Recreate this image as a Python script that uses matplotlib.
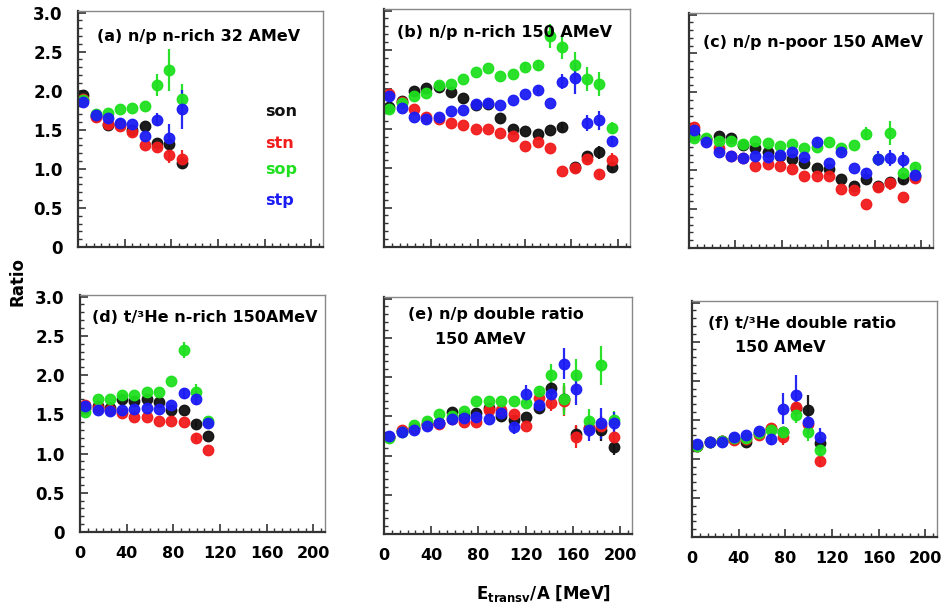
import matplotlib
matplotlib.use("Agg")
import matplotlib.pyplot as plt
from matplotlib.ticker import MultipleLocator, FixedLocator

W, H = 943, 605

# bin centres (MeV/A)
x_bins = [4.5, 15.0, 25.6, 36.1, 46.7, 57.2, 67.8, 78.3, 88.9, 99.4,
          110.0, 120.5, 131.1, 141.6, 152.2, 162.7, 173.3, 183.8, 194.4]

# (a) n/p n-rich 32 AMeV
a_son = [1.95, 1.68, 1.56, 1.57, 1.50, 1.55, 1.33, 1.32, 1.08]
a_stn = [1.90, 1.66, 1.58, 1.55, 1.47, 1.31, 1.28, 1.18, 1.12]
a_sop = [1.88, 1.70, 1.71, 1.76, 1.78, 1.81, 2.07, 2.27, 1.89]
a_stp = [1.85, 1.69, 1.65, 1.59, 1.58, 1.42, 1.63, 1.39, 1.76]
a_son_err = [0, 0, 0, 0, 0, 0, 0, 0.05, 0.08]
a_stn_err = [0, 0, 0, 0, 0, 0, 0.06, 0.10, 0.12]
a_sop_err = [0, 0, 0, 0, 0, 0, 0.14, 0.27, 0.20]
a_stp_err = [0, 0, 0, 0, 0, 0, 0.08, 0.18, 0.25]

# (b) n/p n-rich 150 AMeV
b_son = [1.78, 1.85, 1.98, 2.02, 2.03, 1.97, 1.89, 1.80, 1.82, 1.64,
         1.50, 1.47, 1.44, 1.48, 1.52, 1.02, 1.15, 1.20, 1.02]
b_stn = [1.94, 1.84, 1.75, 1.65, 1.63, 1.57, 1.55, 1.50, 1.50, 1.45,
         1.41, 1.28, 1.33, 1.26, 0.97, 1.00, 1.12, 0.92, 1.11]
b_sop = [1.75, 1.83, 1.91, 1.96, 2.05, 2.07, 2.13, 2.22, 2.27, 2.17,
         2.19, 2.29, 2.31, 2.68, 2.54, 2.31, 2.13, 2.07, 1.51]
b_stp = [1.91, 1.77, 1.65, 1.62, 1.65, 1.72, 1.74, 1.81, 1.83, 1.80,
         1.86, 1.94, 1.99, 1.83, 2.10, 2.14, 1.57, 1.61, 1.34]
b_son_err = [0, 0, 0, 0, 0, 0, 0, 0, 0, 0, 0, 0, 0, 0, 0.05, 0, 0.05, 0.08, 0.05]
b_stn_err = [0, 0, 0, 0, 0, 0, 0, 0, 0, 0, 0, 0, 0, 0, 0, 0, 0.08, 0.05, 0.08]
b_sop_err = [0, 0, 0, 0, 0, 0, 0, 0, 0, 0, 0, 0.05, 0.06, 0.15, 0.15, 0.17, 0.15, 0.15, 0.07]
b_stp_err = [0, 0, 0, 0, 0, 0, 0, 0, 0, 0, 0, 0, 0.05, 0, 0.10, 0.20, 0.10, 0.12, 0.05]

# (c) n/p n-poor 150 AMeV
c_son = [1.45, 1.40, 1.44, 1.41, 1.32, 1.28, 1.24, 1.18, 1.14, 1.09,
         1.03, 1.01, 0.89, 0.80, 0.89, 0.80, 0.85, 0.89, 0.92]
c_stn = [1.55, 1.40, 1.29, 1.18, 1.16, 1.06, 1.08, 1.05, 1.01, 0.92,
         0.92, 0.93, 0.76, 0.75, 0.57, 0.79, 0.83, 0.66, 0.90]
c_sop = [1.42, 1.41, 1.37, 1.38, 1.34, 1.38, 1.35, 1.31, 1.34, 1.29,
         1.30, 1.36, 1.29, 1.32, 1.47, 1.15, 1.48, 0.96, 1.04]
c_stp = [1.52, 1.36, 1.24, 1.18, 1.16, 1.18, 1.17, 1.20, 1.24, 1.17,
         1.36, 1.09, 1.24, 1.03, 0.97, 1.15, 1.16, 1.13, 0.94]
c_son_err = [0, 0, 0, 0, 0, 0, 0, 0, 0, 0, 0, 0, 0, 0, 0, 0.06, 0, 0.07, 0]
c_stn_err = [0, 0, 0, 0, 0, 0, 0, 0, 0, 0, 0, 0, 0, 0, 0, 0.06, 0.08, 0, 0.06]
c_sop_err = [0, 0, 0, 0, 0, 0, 0, 0, 0, 0, 0, 0, 0, 0, 0.08, 0, 0.15, 0, 0.06]
c_stp_err = [0, 0, 0, 0, 0, 0, 0, 0, 0, 0, 0.05, 0, 0.05, 0, 0.05, 0.10, 0.10, 0.10, 0.05]

# (d) t/3He n-rich 150 AMeV
d_son = [1.58, 1.60, 1.58, 1.70, 1.67, 1.70, 1.66, 1.55, 1.56, 1.37, 1.22]
d_stn = [1.62, 1.58, 1.56, 1.51, 1.46, 1.47, 1.42, 1.42, 1.40, 1.20, 1.04]
d_sop = [1.53, 1.69, 1.70, 1.74, 1.75, 1.79, 1.79, 1.93, 2.32, 1.78, 1.42]
d_stp = [1.61, 1.56, 1.54, 1.55, 1.57, 1.58, 1.57, 1.62, 1.77, 1.70, 1.39]
d_son_err = [0, 0, 0, 0, 0, 0, 0, 0, 0, 0.05, 0]
d_stn_err = [0, 0, 0, 0, 0, 0, 0, 0, 0, 0.05, 0]
d_sop_err = [0, 0, 0, 0, 0, 0, 0, 0, 0.10, 0.10, 0.05]
d_stp_err = [0, 0, 0, 0, 0, 0, 0, 0, 0.07, 0.08, 0.05]

# (e) n/p double ratio 150 AMeV
e_son = [1.23, 1.31, 1.35, 1.40, 1.42, 1.55, 1.50, 1.54, 1.61, 1.51,
         1.45, 1.49, 1.61, 1.86, 1.72, 1.27, 1.35, 1.33, 1.11]
e_stn = [1.23, 1.32, 1.35, 1.40, 1.40, 1.47, 1.43, 1.43, 1.58, 1.58,
         1.53, 1.37, 1.73, 1.67, 1.70, 1.24, 1.35, 1.38, 1.24]
e_sop = [1.22, 1.30, 1.39, 1.44, 1.53, 1.51, 1.57, 1.70, 1.70, 1.69,
         1.69, 1.67, 1.82, 2.03, 1.72, 2.03, 1.44, 2.15, 1.45]
e_stp = [1.25, 1.30, 1.33, 1.37, 1.41, 1.46, 1.48, 1.49, 1.47, 1.54,
         1.36, 1.78, 1.64, 1.79, 2.17, 1.85, 1.33, 1.41, 1.41]
e_son_err = [0, 0, 0, 0, 0, 0, 0, 0, 0, 0, 0, 0, 0, 0.08, 0.15, 0.10, 0.12, 0.15, 0.10]
e_stn_err = [0, 0, 0, 0, 0, 0, 0, 0, 0, 0, 0, 0, 0, 0.10, 0.20, 0.15, 0.12, 0.12, 0.10]
e_sop_err = [0, 0, 0, 0, 0, 0, 0, 0, 0, 0, 0, 0, 0.06, 0.14, 0.20, 0.20, 0.15, 0.25, 0.12]
e_stp_err = [0, 0, 0, 0, 0, 0, 0, 0, 0, 0, 0.08, 0.12, 0.08, 0.08, 0.20, 0.20, 0.15, 0.20, 0.15]

# (f) t/3He double ratio 150 AMeV
f_son = [1.17, 1.21, 1.23, 1.26, 1.22, 1.33, 1.38, 1.35, 1.65, 1.62, 1.20]
f_stn = [1.17, 1.21, 1.23, 1.24, 1.26, 1.31, 1.40, 1.28, 1.66, 1.45, 0.97]
f_sop = [1.16, 1.21, 1.23, 1.27, 1.27, 1.33, 1.37, 1.35, 1.56, 1.35, 1.11]
f_stp = [1.19, 1.21, 1.22, 1.28, 1.30, 1.36, 1.25, 1.64, 1.82, 1.47, 1.28]
f_son_err = [0, 0, 0, 0, 0, 0, 0, 0, 0.10, 0.20, 0.10]
f_stn_err = [0, 0, 0, 0, 0, 0, 0, 0.10, 0.10, 0.10, 0.07]
f_sop_err = [0, 0, 0, 0, 0, 0, 0, 0, 0.10, 0.12, 0.10]
f_stp_err = [0, 0, 0, 0, 0, 0, 0.07, 0.20, 0.25, 0.15, 0.12]

series_names = ["son", "stn", "sop", "stp"]
colors = ["#111111", "#f21c1c", "#1fe01f", "#1c1cf5"]

y_ticks = [0, 0.5, 1.0, 1.5, 2.0, 2.5, 3.0]
y_ticklabels = ['0', '0.5', '1.0', '1.5', '2.0', '2.5', '3.0']
x_ticks = [0, 40, 80, 120, 160, 200]
x_ticklabels = ['0', '40', '80', '120', '160', '200']

plt.rcParams['font.family'] = ['DejaVu Sans']
plt.rcParams['font.weight'] = 'bold'

fig = plt.figure(figsize=(W / 100, H / 100), dpi=100)


def panel(l, t, r, b, ylabels, xlabels):
    ax = fig.add_axes([l / W, 1 - b / H, (r - l) / W, (b - t) / H])
    ax.set_xlim(0, 210)
    ax.set_ylim(0, 3.02)
    ax.yaxis.set_major_locator(FixedLocator(y_ticks))
    ax.yaxis.set_minor_locator(MultipleLocator(0.1))
    ax.xaxis.set_major_locator(FixedLocator(x_ticks))
    ax.xaxis.set_minor_locator(MultipleLocator(40 / 6))
    ax.tick_params(which='both', direction='in', top=False, right=False,
                   colors='#333333')
    ax.tick_params(which='major', length=6, width=1.2)
    ax.tick_params(which='minor', length=3, width=1)
    ax.tick_params(axis='y', pad=11, labelsize=12, labelcolor='black')
    ax.tick_params(axis='x', pad=10, labelsize=11.5, labelcolor='black')
    if ylabels:
        ax.set_yticklabels(y_ticklabels, fontweight='bold')
    else:
        ax.set_yticklabels([])
    if xlabels:
        ax.set_xticklabels(x_ticklabels, fontweight='bold')
    else:
        ax.set_xticklabels([])
    for s in ['left', 'bottom']:
        ax.spines[s].set_color('#333333')
        ax.spines[s].set_linewidth(1.6)
    for s in ['top', 'right']:
        ax.spines[s].set_color('#888888')
        ax.spines[s].set_linewidth(1.0)
    return ax


def draw(ax, vals, errs):
    for v, e, c in zip(vals, errs, colors):
        xs = x_bins[:len(v)]
        ax.errorbar(xs, v, yerr=e, fmt='o', ms=7.5, color=c, mec=c,
                    ecolor=c, elinewidth=1.6, capsize=0, alpha=0.95)


ax_a = panel(78, 11, 323, 247, True, False)
draw(ax_a, [a_son, a_stn, a_sop, a_stp], [a_son_err, a_stn_err, a_sop_err, a_stp_err])

ax_b = panel(384, 9, 630, 247, False, False)
draw(ax_b, [b_son, b_stn, b_sop, b_stp], [b_son_err, b_stn_err, b_sop_err, b_stp_err])

ax_c = panel(689, 13, 933, 248, False, False)
draw(ax_c, [c_son, c_stn, c_sop, c_stp], [c_son_err, c_stn_err, c_sop_err, c_stp_err])

ax_d = panel(80, 295, 325, 532, True, True)
draw(ax_d, [d_son, d_stn, d_sop, d_stp], [d_son_err, d_stn_err, d_sop_err, d_stp_err])

ax_e = panel(384, 297, 632, 534, False, True)
draw(ax_e, [e_son, e_stn, e_sop, e_stp], [e_son_err, e_stn_err, e_sop_err, e_stp_err])

ax_f = panel(692, 301, 937, 537, False, True)
draw(ax_f, [f_son, f_stn, f_sop, f_stp], [f_son_err, f_stn_err, f_sop_err, f_stp_err])


def ftext(x, y, s, **kw):
    fig.text(x / W, 1 - y / H, s, fontsize=11.5, fontweight='bold',
             va='center', ha='left', **kw)


# panel titles
ftext(97, 37, "(a) n/p n-rich 32 AMeV")
ftext(397, 33, "(b) n/p n-rich 150 AMeV")
ftext(703, 42, "(c) n/p n-poor 150 AMeV")
ftext(92, 317, "(d) t/\u00b3He n-rich 150AMeV")
ftext(408, 315, "(e) n/p double ratio")
ftext(435, 340, "150 AMeV")
ftext(708, 323, "(f) t/\u00b3He double ratio")
ftext(735, 347, "150 AMeV")

# series key in panel (a)
key_y = [111, 143, 170, 201]
for name, c, yy in zip(series_names, colors, key_y):
    ftext(265, yy, name, color=c)

# axis titles
fig.text(18 / W, 1 - 282 / H, "Ratio", rotation=90, fontsize=12,
         fontweight='bold', ha='center', va='center')
fig.text(544 / W, 1 - 594 / H, r"$\mathbf{E}_{\mathbf{transv}}$/A [MeV]",
         fontsize=12, fontweight='bold', ha='center', va='center')

fig.savefig("out.png", dpi=100)
